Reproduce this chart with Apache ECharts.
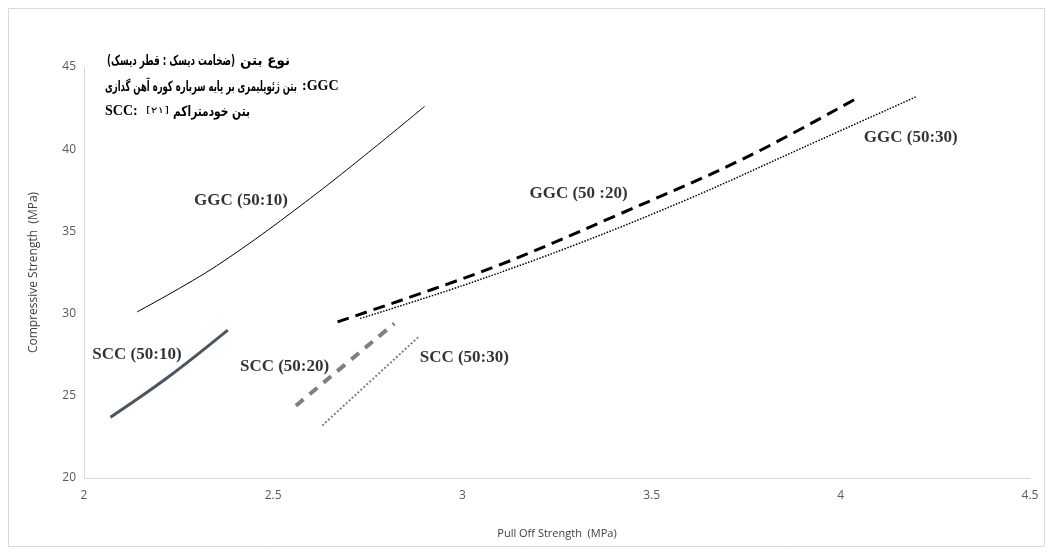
<!DOCTYPE html>
<html>
<head>
<meta charset="utf-8">
<script src="https://cdn.jsdelivr.net/npm/echarts@6/dist/echarts.min.js"></script>
<style>
  html, body { margin: 0; padding: 0; background: #ffffff; }
  #chart { width: 1054px; height: 552px; }
</style>
</head>
<body>
<div id="chart"></div>
<script>
// Pull-off strength (MPa) vs compressive strength (MPa) trend curves
const xTicks = [2, 2.5, 3, 3.5, 4, 4.5];
const yTicks = [20, 25, 30, 35, 40, 45];

const ggc5010 = [[2.14, 30.1], [2.35, 32.9], [2.62, 37.4], [2.90, 42.6]];
const ggc5020 = [[2.67, 29.5], [3.08, 32.8], [3.40, 35.9], [3.75, 39.5], [4.05, 43.2]];
const ggc5030 = [[2.73, 29.7], [3.0, 31.7], [3.3, 34.2], [3.6, 37.0], [3.9, 40.1], [4.2, 43.2]];
const scc5010 = [[2.07, 23.7], [2.22, 26.1], [2.38, 29.0]];
const scc5020 = [[2.56, 24.4], [2.82, 29.4]];
const scc5030 = [[2.63, 23.2], [2.885, 28.6]];

// curve captions, anchored in data units
const captionNames = ['GGC (50:10)', 'GGC (50 :20)', 'GGC (50:30)', 'SCC (50:10)', 'SCC (50:20)', 'SCC (50:30)'];
const captionX = [2.415, 3.307, 4.185, 2.14, 2.53, 3.005];
const captionY = [36.9, 37.3, 40.7, 27.5, 26.75, 27.35];

// key text (Persian)
const keyTitleA = '(ضخامت دیسک : قطر دیسک)';
const keyTitleB = 'نوع بتن';
const keyGgcText = 'بتن ژئوپلیمری بر پایه سرباره کوره آهن گدازی';
const keyGgcCode = ':GGC';
const keySccCode = 'SCC:';
const keySccRef = '[۲۱]';
const keySccText = 'بتن خودمتراکم';

const serif = '"Liberation Serif", "Times New Roman", serif';
const persian = '"DejaVu Sans", sans-serif';
const sans = '"Open Sans", "Liberation Sans", sans-serif';

// horizontal squeeze so a Persian run spans a given width
const measureCtx = document.createElement('canvas').getContext('2d');
function squeeze(text, size, bold, width) {
  measureCtx.font = (bold ? 'bold ' : '') + size + 'px "DejaVu Sans"';
  return width / measureCtx.measureText(text).width;
}

function keyText(text, x, y, width, opts) {
  opts = opts || {};
  const size = opts.size || 14;
  const bold = opts.bold !== false;
  const family = opts.family || persian;
  const el = {
    type: 'text',
    x: x,
    y: y,
    silent: true,
    style: {
      text: text,
      fontFamily: family,
      fontWeight: bold ? 'bold' : 'normal',
      fontSize: size,
      fill: '#000000',
      align: 'left',
      verticalAlign: 'middle'
    }
  };
  if (width) el.scaleX = squeeze(text, size, bold, width);
  return el;
}

function lineSeries(name, data, color, width, type) {
  return {
    name: name,
    type: 'line',
    data: data,
    smooth: 0.35,
    symbol: 'none',
    lineStyle: { color: color, width: width, type: type, cap: 'butt' },
    z: 3
  };
}

const chart = echarts.init(document.getElementById('chart'), null, { renderer: 'canvas' });

chart.setOption({
  backgroundColor: '#ffffff',
  animation: false,
  grid: { left: 84, right: 24, top: 67, bottom: 74 },
  xAxis: {
    type: 'value',
    min: xTicks[0],
    max: xTicks[xTicks.length - 1],
    interval: 0.5,
    name: 'Pull Off Strength  (MPa)',
    nameLocation: 'middle',
    nameGap: 50,
    nameTextStyle: { fontFamily: sans, fontSize: 11, color: '#404040' },
    axisLine: { show: true, lineStyle: { color: '#d9d9d9', width: 1 } },
    axisTick: { show: false },
    splitLine: { show: false },
    axisLabel: { fontFamily: sans, fontSize: 12, color: '#595959', margin: 12 }
  },
  yAxis: {
    type: 'value',
    min: yTicks[0],
    max: yTicks[yTicks.length - 1],
    interval: 5,
    name: 'Compressive Strength  (MPa)',
    nameLocation: 'middle',
    nameGap: 44,
    nameTextStyle: { fontFamily: sans, fontSize: 12, color: '#404040' },
    axisLine: { show: true, lineStyle: { color: '#d9d9d9', width: 1 } },
    axisTick: { show: false },
    splitLine: { show: false },
    axisLabel: { fontFamily: sans, fontSize: 12, color: '#595959', margin: 8 }
  },
  graphic: [
    {
      type: 'rect',
      shape: { x: 8.5, y: 8.5, width: 1036, height: 538 },
      style: { fill: 'none', stroke: '#d9d9d9', lineWidth: 1 },
      silent: true
    },
    keyText(keyTitleA, 107, 61, 128),
    keyText(keyTitleB, 240, 61, 50),
    keyText(keyGgcText, 105, 87, 192),
    keyText(keyGgcCode, 302, 86, null, { family: serif, size: 14 }),
    keyText(keySccCode, 105, 111, null, { family: serif, size: 14 }),
    keyText(keySccRef, 146, 111, 23, { size: 9, bold: false }),
    keyText(keySccText, 173, 112, 77)
  ],
  series: [
    lineSeries('GGC (50:10)', ggc5010, '#000000', 1, 'solid'),
    lineSeries('GGC (50:20)', ggc5020, '#000000', 3, [12, 7]),
    lineSeries('GGC (50:30)', ggc5030, '#000000', 1.5, [1.5, 1.5]),
    lineSeries('SCC (50:10)', scc5010, '#4a5663', 3, 'solid'),
    lineSeries('SCC (50:20)', scc5020, '#808080', 4, [10, 8]),
    lineSeries('SCC (50:30)', scc5030, '#808080', 2, [2, 2]),
    {
      name: 'captions',
      type: 'scatter',
      symbolSize: 0,
      data: captionNames.map((n, i) => ({ name: n, value: [captionX[i], captionY[i]] })),
      label: {
        show: true,
        position: 'inside',
        formatter: p => p.name,
        fontFamily: serif,
        fontWeight: 'bold',
        fontSize: 17,
        color: '#000'
      },
      silent: true,
      z: 4
    }
  ]
});
</script>
</body>
</html>
